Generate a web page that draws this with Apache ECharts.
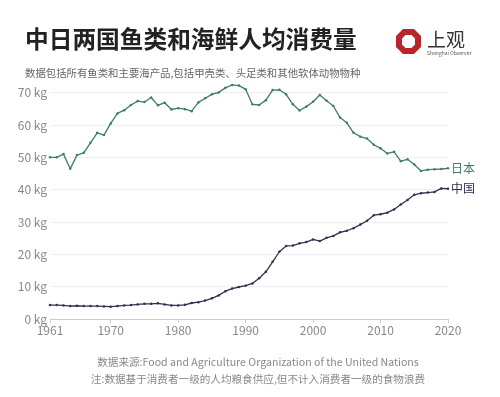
<!DOCTYPE html>
<html>
<head>
<meta charset="utf-8">
<script src="https://cdn.jsdelivr.net/npm/echarts@6/dist/echarts.min.js"></script>
<style>
  html, body { margin: 0; padding: 0; background: #fff; }
  #chart { width: 500px; height: 397px; }
</style>
</head>
<body>
<div id="chart"></div>
<script>
// 年份 1961 - 2020
const years = [];
for (let y = 1961; y <= 2020; y++) years.push(String(y));

// 人均消费量 (kg)
const japan = [
  50.0, 50.0, 51.0, 46.5, 50.7, 51.4, 54.5, 57.6, 56.9, 60.5,
  63.6, 64.6, 66.2, 67.4, 67.1, 68.5, 66.1, 66.9, 64.8, 65.2,
  64.9, 64.3, 67.0, 68.3, 69.5, 70.1, 71.5, 72.4, 72.2, 71.1,
  66.4, 66.2, 67.7, 70.8, 70.9, 69.5, 66.4, 64.5, 65.7, 67.2,
  69.3, 67.5, 65.9, 62.3, 60.7, 57.6, 56.4, 55.8, 53.9, 52.8,
  51.2, 51.7, 48.8, 49.4, 47.8, 45.8, 46.2, 46.3, 46.4, 46.6
];
const china = [
  4.3, 4.3, 4.2, 4.0, 4.1, 4.0, 4.0, 4.0, 3.9, 3.8,
  4.0, 4.2, 4.3, 4.5, 4.7, 4.7, 4.85, 4.5, 4.2, 4.2,
  4.4, 4.95, 5.2, 5.7, 6.4, 7.3, 8.6, 9.4, 9.9, 10.3,
  11.0, 12.6, 14.6, 17.7, 20.8, 22.6, 22.7, 23.4, 23.8, 24.6,
  24.1, 25.1, 25.7, 26.8, 27.3, 28.1, 29.2, 30.4, 32.1, 32.4,
  32.9, 33.9, 35.4, 36.8, 38.4, 38.9, 39.1, 39.3, 40.4, 40.3
];
const yTicks = [0, 10, 20, 30, 40, 50, 60, 70];

const font = '"Noto Sans CJK SC", "Noto Sans", sans-serif';
const chart = echarts.init(document.getElementById('chart'));

function lineSeries(name, data, color) {
  return {
    name: name,
    type: 'line',
    data: data,
    clip: false,
    symbol: 'circle',
    symbolSize: 2.5,
    itemStyle: { color: color },
    lineStyle: { color: color, width: 1.3 },
    endLabel: {
      show: true,
      formatter: '{a}',
      color: color,
      fontFamily: font,
      fontSize: 12,
      distance: 3
    },
    emphasis: { disabled: true },
    animation: false
  };
}

chart.setOption({
  backgroundColor: '#fff',
  animation: false,
  textStyle: { fontFamily: font },
  title: [
    {
      text: '中日两国鱼类和海鲜人均消费量',
      left: 20, top: 22,
      textStyle: { fontSize: 23.7, fontWeight: 'bold', color: '#222', fontFamily: font }
    },
    {
      text: '数据包括所有鱼类和主要海产品,包括甲壳类、头足类和其他软体动物物种',
      left: 20, top: 63,
      textStyle: { fontSize: 10.4, fontWeight: 'normal', color: '#666', fontFamily: font }
    }
  ],
  graphic: [
    {
      type: 'polygon',
      shape: { points: [[403,29],[414,29],[421,36],[421,47],[414,54],[403,54],[396,47],[396,36]] },
      style: { fill: '#b8262b' }
    },
    {
      type: 'polygon',
      shape: { points: [[405.5,35],[411.5,35],[415,38.5],[415,44.5],[411.5,48],[405.5,48],[402,44.5],[402,38.5]] },
      style: { fill: '#fff' }
    },
    {
      type: 'text', left: 427, top: 30,
      style: { text: '上观', fontSize: 19, fill: '#333', fontFamily: '"Noto Sans CJK SC", serif' }
    },
    {
      type: 'text', left: 427, top: 51,
      style: { text: 'Shanghai Observer', fontSize: 5, fill: '#555', fontFamily: font }
    },
    {
      type: 'text', x: 258, y: 357,
      style: {
        text: '数据来源:Food and Agriculture Organization of the United Nations',
        fontSize: 10.6, fill: '#888', fontFamily: font, align: 'center'
      }
    },
    {
      type: 'text', x: 258, y: 374,
      style: {
        text: '注:数据基于消费者一级的人均粮食供应,但不计入消费者一级的食物浪费',
        fontSize: 10.6, fill: '#888', fontFamily: font, align: 'center'
      }
    }
  ],
  grid: { left: 50, right: 52, top: 92.7, bottom: 78, containLabel: false },
  xAxis: {
    type: 'category',
    data: years,
    boundaryGap: false,
    axisLine: { lineStyle: { color: '#ccc', width: 1 } },
    axisTick: {
      show: true, length: 4,
      lineStyle: { color: '#ccc' },
      interval: (i, v) => v === '1961' || Number(v) % 10 === 0
    },
    axisLabel: {
      color: '#888', fontSize: 12, margin: 5,
      interval: (i, v) => v === '1961' || Number(v) % 10 === 0
    },
    splitLine: { show: false }
  },
  yAxis: {
    type: 'value',
    min: yTicks[0], max: yTicks[yTicks.length - 1], interval: 10,
    axisLine: { show: false },
    axisTick: { show: false },
    axisLabel: { color: '#888', fontSize: 12, margin: 3, formatter: '{value} kg' },
    splitLine: { lineStyle: { color: '#eee', width: 1 } }
  },
  series: [
    lineSeries('日本', japan, '#3e7c6b'),
    lineSeries('中国', china, '#2e3350')
  ]
});
</script>
</body>
</html>
